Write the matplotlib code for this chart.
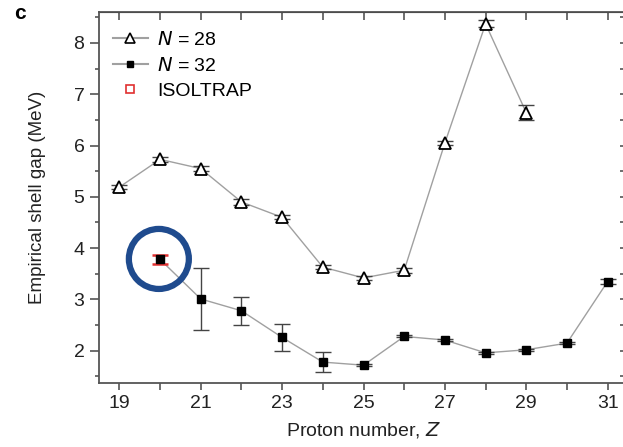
import matplotlib
matplotlib.use("Agg")
import matplotlib.pyplot as plt
from matplotlib.patches import Ellipse
from matplotlib.ticker import MultipleLocator, FixedLocator

plt.rcParams['font.family'] = ['Liberation Sans', 'DejaVu Sans']

# N = 28 series
z28 = [19, 20, 21, 22, 23, 24, 25, 26, 27, 28, 29]
gap28 = [5.19, 5.73, 5.55, 4.90, 4.60, 3.63, 3.42, 3.57, 6.05, 8.37, 6.64]
err28 = [0.04, 0.05, 0.05, 0.05, 0.04, 0.04, 0.04, 0.05, 0.04, 0.07, 0.15]

# N = 32 series
z32 = [20, 21, 22, 23, 24, 25, 26, 27, 28, 29, 30, 31]
gap32 = [3.78, 3.01, 2.78, 2.26, 1.78, 1.72, 2.28, 2.21, 1.96, 2.02, 2.15, 3.35]
err32 = [0.08, 0.60, 0.27, 0.27, 0.20, 0.02, 0.02, 0.02, 0.02, 0.02, 0.02, 0.05]

# ISOLTRAP point
z_iso = [20]
gap_iso = [3.78]
err_iso = [0.08]

xticks_labeled = [19, 21, 23, 25, 27, 29, 31]

fig = plt.figure(figsize=(6.23, 4.47), dpi=100)
ax = fig.add_axes([0.159, 0.144, 0.849, 0.829])

line_col = '#a0a0a0'
err_col = '#444444'

ax.plot(z28, gap28, '-', color=line_col, lw=1.0, zorder=1)
ax.errorbar(z28, gap28, yerr=err28, fmt='none', ecolor=err_col, elinewidth=1.0,
            capsize=6, capthick=1.0, zorder=2)
ax.plot(z28, gap28, '^', ms=8, mfc='white', mec='black', mew=1.3, ls='none', zorder=3)

ax.plot(z32, gap32, '-', color=line_col, lw=1.0, zorder=1)
ax.errorbar(z32[1:], gap32[1:], yerr=err32[1:], fmt='none', ecolor=err_col,
            elinewidth=1.0, capsize=6, capthick=1.0, zorder=2)
ax.errorbar(z_iso, gap_iso, yerr=err_iso, fmt='none', ecolor='#e03030',
            elinewidth=1.2, capsize=6, capthick=1.8, zorder=2)
ax.plot(z32, gap32, 's', ms=5.5, mfc='black', mec='black', ls='none', zorder=3)

# legend handles
h1, = ax.plot([], [], '-^', color=line_col, ms=7, mfc='white', mec='black', mew=1.2)
h2, = ax.plot([], [], '-s', color=line_col, ms=5, mfc='black', mec='black')
h3, = ax.plot([], [], 's', ls='none', ms=6, mfc='white', mec='#e03030', mew=1.2)
leg = ax.legend([h1, h2, h3], [r'$\it{N}$ = 28', r'$\it{N}$ = 32', 'ISOLTRAP'],
                loc='upper left', frameon=False, fontsize=14, handlelength=1.8,
                handletextpad=0.5, labelspacing=0.38, borderaxespad=0.3,
                bbox_to_anchor=(0.0, 0.985))

# highlight circle
circ = Ellipse((19.97, 3.79), width=60 / 40.7, height=60 / 51.3, fill=False,
               ec='#1f4b8e', lw=4.5, zorder=5)
ax.add_patch(circ)

ax.set_xlim(18.5, 31.5)
ax.set_ylim(1.38, 8.6)
ax.xaxis.set_major_locator(FixedLocator(xticks_labeled))
ax.xaxis.set_minor_locator(MultipleLocator(1))
ax.yaxis.set_major_locator(MultipleLocator(1))
ax.yaxis.set_minor_locator(MultipleLocator(0.5))

for s in ax.spines.values():
    s.set_color('#555555')
    s.set_linewidth(1.3)

ax.tick_params(axis='both', which='both', colors='#555555', labelcolor='#222222',
               labelsize=14, width=1.2)
ax.tick_params(axis='x', which='both', direction='out', length=5, pad=4)
ax.tick_params(axis='y', which='major', direction='out', length=6.5, pad=4)
ax.tick_params(axis='y', which='minor', direction='out', length=3)
# top and right ticks point inward
ax2 = ax.secondary_xaxis('top')
ax2.xaxis.set_major_locator(MultipleLocator(1))
ax2.tick_params(direction='in', length=6, width=1.2, colors='#555555', labeltop=False)
ax2.set_xticklabels([])
ax3 = ax.secondary_yaxis('right')
ax3.yaxis.set_major_locator(MultipleLocator(0.5))
ax3.tick_params(direction='in', length=6, width=1.2, colors='#555555', labelright=False)
ax3.set_yticklabels([])
ax.tick_params(top=False, right=False, which='both')

ax.set_xlabel('Proton number, $\\it{Z}$', fontsize=14, color='#222222', labelpad=6)
ax.set_ylabel('Empirical shell gap (MeV)', fontsize=13.5, color='#222222', labelpad=20)

fig.text(0.022, 0.99, 'c', fontsize=15, fontweight='bold', va='top', ha='left')

fig.savefig('out.png', dpi=100)
